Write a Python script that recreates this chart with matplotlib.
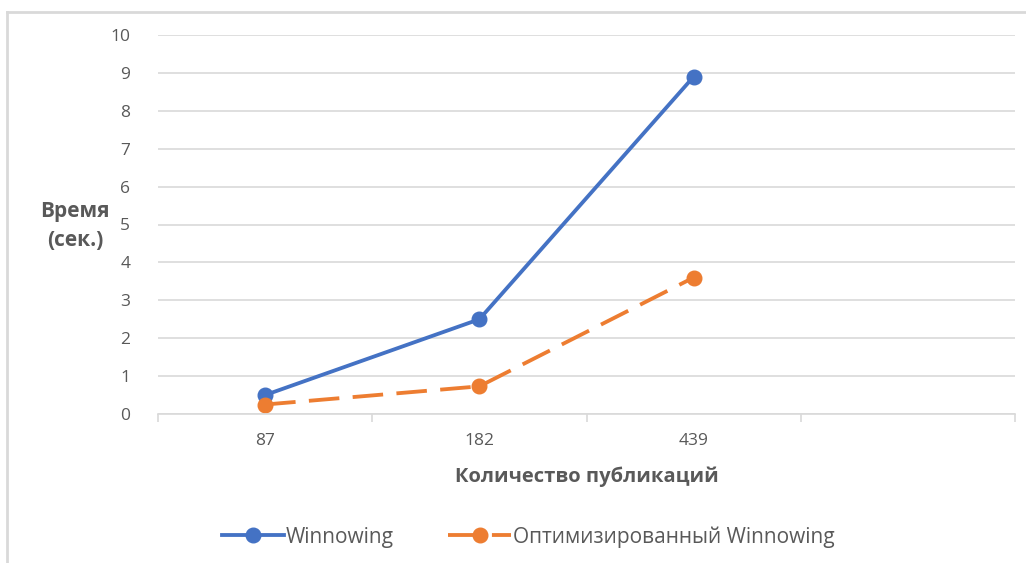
import matplotlib.pyplot as plt
from matplotlib.lines import Line2D

categories = ["87", "182", "439", ""]
winnowing = [0.5, 2.5, 8.9]
optimized = [0.25, 0.73, 3.6]

BLUE = "#4472C4"
ORANGE = "#ED7D31"
GRID = "#D9D9D9"
TEXT = "#595959"
LW = 2.75
MS = 10.5

plt.rcParams["font.family"] = ["Open Sans", "DejaVu Sans"]

fig = plt.figure(figsize=(10.26, 5.63), dpi=100)
W, H = 1026, 563
ax = fig.add_axes([158 / W, 1 - 414 / H, (1015 - 158) / W, (414 - 35) / H])

x = range(len(winnowing))
ax.plot(x, winnowing, color=BLUE, linewidth=LW, marker="o", markersize=MS,
        label="Winnowing")
ax.plot(x, optimized, color=ORANGE, linewidth=LW, marker="o", markersize=MS,
        dashes=(8, 3.5), label="Оптимизированный Winnowing")

ax.set_xlim(-0.5, len(categories) - 0.5)
ax.set_ylim(0, 10)
ax.set_yticks(range(0, 11))
ax.yaxis.grid(True, color=GRID, linewidth=1.2)
ax.set_axisbelow(True)
for side in ("left", "right", "top"):
    ax.spines[side].set_visible(False)
ax.spines["bottom"].set_color(GRID)
ax.spines["bottom"].set_linewidth(1.2)

ax.tick_params(axis="y", length=0, pad=20, labelsize=12.5, labelcolor=TEXT)
ax.set_xticks([i - 0.5 for i in range(len(categories) + 1)])
ax.set_xticklabels([])
ax.tick_params(axis="x", which="major", length=6, color=GRID, width=1.2)
ax.set_xticks(range(len(categories)), minor=True)
ax.set_xticklabels(categories, minor=True)
ax.tick_params(axis="x", which="minor", length=0, pad=14, labelsize=12.5, labelcolor=TEXT)

ax.set_xlabel("Количество публикаций", fontsize=14.5, fontweight="bold", color=TEXT, labelpad=12)
fig.text(75 / W, 1 - 226 / H, "Время\n(сек.)", fontsize=15, fontweight="bold", color=TEXT,
         ha="center", va="center", linespacing=1.45)

handles = [
    Line2D([], [], color=BLUE, linewidth=LW, marker="o", markersize=MS),
    Line2D([], [], color=ORANGE, linewidth=LW, marker="o", markersize=MS, dashes=(8, 3.5)),
]
fig.legend(handles, ["Winnowing", "Оптимизированный Winnowing"], loc="center",
           bbox_to_anchor=(528 / W, 1 - 537 / H), ncol=2, frameon=False,
           fontsize=15, labelcolor=TEXT, handlelength=3.0, handletextpad=0.1,
           columnspacing=2.6)

# chart-area frame (cropped on right and bottom)
fig.add_artist(Line2D([7 / W, 1], [1 - 11.5 / H, 1 - 11.5 / H], color=GRID, linewidth=2,
                      transform=fig.transFigure))
fig.add_artist(Line2D([7 / W, 7 / W], [0, 1 - 11.5 / H], color=GRID, linewidth=2,
                      transform=fig.transFigure))

fig.savefig("out.png", dpi=100)
